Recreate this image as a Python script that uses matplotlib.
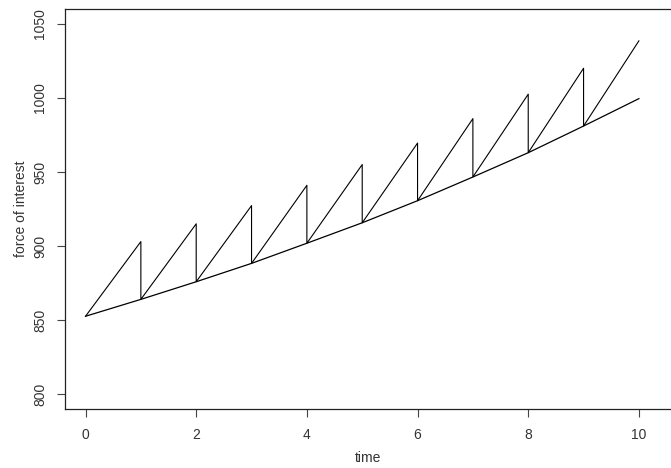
import matplotlib
matplotlib.use("Agg")
import matplotlib.pyplot as plt

# values
times = [0, 1, 2, 3, 4, 5, 6, 7, 8, 9, 10]
smooth_value = [852.6, 864.0, 875.9, 888.3, 901.9, 915.7, 930.6, 946.6, 963.0, 981.0, 999.5]
# value reached just before each yearly reset (t = 1..10)
peak_value = [903.0, 915.0, 927.3, 941.0, 955.0, 969.5, 986.0, 1002.5, 1020.0, 1038.5]

x_ticks = [0, 2, 4, 6, 8, 10]
y_ticks = [800, 850, 900, 950, 1000, 1050]

# sawtooth path: rise from the curve to the peak, then drop back
saw_t = [times[0]]
saw_v = [smooth_value[0]]
for k in range(1, len(times)):
    saw_t.append(times[k])
    saw_v.append(peak_value[k - 1])
    if k < len(times) - 1:
        saw_t.append(times[k])
        saw_v.append(smooth_value[k])

plt.rcParams["font.family"] = ["Liberation Sans", "DejaVu Sans"]

fig = plt.figure(figsize=(6.71, 4.68), dpi=100)
ax = fig.add_axes([64.5 / 671, 1 - 409 / 468, (671 - 64.5) / 671, 400 / 468])

ax.plot(times, smooth_value, color="black", linewidth=0.9)
ax.plot(saw_t, saw_v, color="black", linewidth=0.8)

ax.set_xlim(-0.38, 10.58)
ax.set_ylim(790, 1060)
ax.spines["right"].set_visible(False)
for s in ("left", "bottom", "top"):
    ax.spines[s].set_color("#222222")
    ax.spines[s].set_linewidth(0.9)

ax.set_xticks(x_ticks)
ax.set_xticklabels([str(v) for v in x_ticks])
ax.set_yticks(y_ticks)
ax.set_yticklabels([str(v) for v in y_ticks], rotation=90, va="center")
ax.tick_params(direction="out", length=5.5, width=0.8, colors="#444444",
               labelsize=10, labelcolor="#333333")
ax.tick_params(axis="x", pad=8)
ax.tick_params(axis="y", pad=7)

ax.set_xlabel("time", fontsize=10, color="#333333", labelpad=7)
ax.set_ylabel("force of interest", fontsize=10, color="#333333", labelpad=4)

fig.savefig("out.png", dpi=100, facecolor="white")
